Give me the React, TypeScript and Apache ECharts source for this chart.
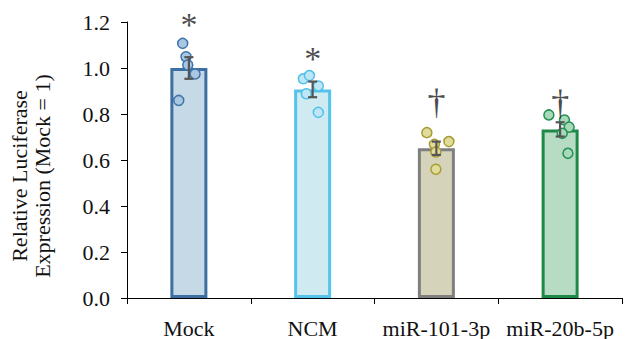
import React, { useEffect, useRef } from "react";
import * as echarts from "echarts";

const categories = ["Mock", "NCM", "miR-101-3p", "miR-20b-5p"];
const means = [1.0, 0.907, 0.651, 0.733];
const errors = [0.047, 0.034, 0.029, 0.031];
const dotValues = [
  [1.107, 1.049, 1.013, 0.974, 0.859],
  [0.953, 0.967, 0.922, 0.888, 0.807],
  [0.719, 0.668, 0.68, 0.635, 0.56],
  [0.796, 0.774, 0.743, 0.716, 0.629],
];
const dotJitter = [
  [-0.05, -0.023, -0.009, 0.05, -0.082],
  [-0.075, -0.026, 0.046, -0.051, 0.046],
  [-0.077, -0.016, 0.101, -0.004, -0.004],
  [-0.091, 0.035, 0.073, 0.017, 0.063],
];
const sigSymbols = ["*", "*", "†", "†"];
const sigValues = [1.19, 1.04, 0.852, 0.848];
const yTicks = [0, 0.2, 0.4, 0.6, 0.8, 1.0, 1.2];

const barFill = ["#c6d9e6", "#d0eaf2", "#d5d3ba", "#b6dcc3"];
const barBorder = ["#3d6fa3", "#55c3ea", "#7f7f7f", "#1f8a48"];
const dotFill = ["#aac7e2", "#bfe6f5", "#e0dc9c", "#a8d9ba"];
const dotStroke = ["#3f74ab", "#4fc1ea", "#a99b34", "#239152"];

const FONT = "Liberation Serif";

export default function App() {
  const ref = useRef<HTMLDivElement>(null);
  useEffect(() => {
    const chart = echarts.init(ref.current!, null, { renderer: "svg" });
    const scatterSeries = dotValues.map((vals, i) => ({
      type: "scatter",
      xAxisIndex: 1,
      yAxisIndex: 0,
      symbol: "circle",
      symbolSize: 10,
      z: 3,
      itemStyle: { color: dotFill[i], borderColor: dotStroke[i], borderWidth: 1.5, opacity: 1 },
      data: vals.map((v, j) => [i + 0.5 + dotJitter[i][j], v]),
    }));
    chart.setOption({
      animation: false,
      grid: { left: 127, right: 10, top: 22, bottom: 41, containLabel: false },
      xAxis: [
        {
          type: "category",
          data: categories,
          boundaryGap: true,
          axisLine: { lineStyle: { color: "#000", width: 1 } },
          axisTick: { show: true, length: 6, lineStyle: { color: "#000" }, alignWithLabel: false },
          axisLabel: { color: "#111", fontFamily: FONT, fontSize: 22, margin: 19, interval: 0 },
        },
        { type: "value", min: 0, max: 4, show: false },
      ],
      yAxis: {
        type: "value",
        min: 0,
        max: 1.2,
        interval: 0.2,
        axisLine: { show: true, lineStyle: { color: "#000", width: 1 } },
        axisTick: { show: true, length: 6, lineStyle: { color: "#000" } },
        splitLine: { show: false },
        axisLabel: {
          color: "#111",
          fontFamily: FONT,
          fontSize: 22,
          margin: 17,
          formatter: (v: number) => (yTicks.includes(Math.round(v * 10) / 10) ? v.toFixed(1) : ""),
        },
      },
      graphic: [
        {
          type: "text",
          x: 31,
          y: 176,
          rotation: Math.PI / 2,
          style: {
            text: "Relative Luciferase\nExpression (Mock = 1)",
            fontFamily: FONT,
            fontSize: 22,
            lineHeight: 23,
            fill: "#111",
            align: "center",
            verticalAlign: "middle",
          },
        },
      ],
      series: [
        {
          type: "bar",
          barWidth: 37,
          z: 2,
          data: means.map((v, i) => ({
            value: v,
            itemStyle: { color: barFill[i], borderColor: barBorder[i], borderWidth: 3 },
          })),
        },
        ...scatterSeries,
        {
          type: "custom",
          z: 4,
          data: means.map((m, i) => [i, m - errors[i], m + errors[i]]),
          renderItem: (params: any, api: any) => {
            const x = api.coord([api.value(0), 0])[0];
            const lo = api.coord([api.value(0), api.value(1)])[1];
            const hi = api.coord([api.value(0), api.value(2)])[1];
            const hw = 4.5;
            const style = { stroke: "#555", lineWidth: 2.2 };
            return {
              type: "group",
              children: [
                { type: "line", shape: { x1: x, y1: lo, x2: x, y2: hi }, style },
                { type: "line", shape: { x1: x - hw, y1: lo, x2: x + hw, y2: lo }, style },
                { type: "line", shape: { x1: x - hw, y1: hi, x2: x + hw, y2: hi }, style },
              ],
            };
          },
        },
        {
          type: "scatter",
          symbolSize: 0,
          z: 5,
          data: sigValues.map((v, i) => ({
            value: [i, v],
            label: { fontSize: sigSymbols[i] === "*" ? 34 : 36 },
          })),
          label: {
            show: true,
            position: "inside",
            formatter: (p: any) => sigSymbols[p.dataIndex],
            fontFamily: FONT,
            color: "#1a1a1a",
          },
        },
      ],
    });
    return () => chart.dispose();
  }, []);
  return (
    <div
      ref={ref}
      style={{ position: "fixed", left: 0, top: 0, width: 632, height: 339, background: "#fff" }}
    />
  );
}
